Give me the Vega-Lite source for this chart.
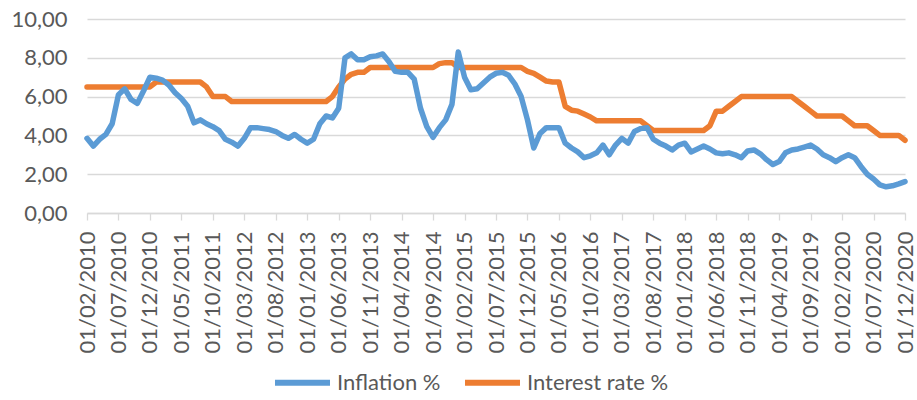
{
  "$schema": "https://vega.github.io/schema/vega-lite/v6.json",
  "width": 825,
  "height": 194,
  "autosize": {"type": "none"},
  "padding": {"left": 87, "top": 19, "right": 5, "bottom": 187},
  "background": "white",
  "config": {
    "view": {"stroke": null},
    "font": "Lato",
    "axis": {"labelColor": "#595959", "labelFont": "Lato", "title": null},
    "axisY": {"labelOverlap": false, "labelBound": false}
  },
  "data": {"values": [
    {"date": "01/02/2010", "inflation": 3.85, "interest": 6.5},
    {"date": "01/03/2010", "inflation": 3.45, "interest": 6.5},
    {"date": "01/04/2010", "inflation": 3.8, "interest": 6.5},
    {"date": "01/05/2010", "inflation": 4.05, "interest": 6.5},
    {"date": "01/06/2010", "inflation": 4.6, "interest": 6.5},
    {"date": "01/07/2010", "inflation": 6.1, "interest": 6.5},
    {"date": "01/08/2010", "inflation": 6.4, "interest": 6.5},
    {"date": "01/09/2010", "inflation": 5.85, "interest": 6.5},
    {"date": "01/10/2010", "inflation": 5.65, "interest": 6.5},
    {"date": "01/11/2010", "inflation": 6.3, "interest": 6.5},
    {"date": "01/12/2010", "inflation": 7.0, "interest": 6.5},
    {"date": "01/01/2011", "inflation": 6.95, "interest": 6.75},
    {"date": "01/02/2011", "inflation": 6.85, "interest": 6.75},
    {"date": "01/03/2011", "inflation": 6.6, "interest": 6.75},
    {"date": "01/04/2011", "inflation": 6.2, "interest": 6.75},
    {"date": "01/05/2011", "inflation": 5.9, "interest": 6.75},
    {"date": "01/06/2011", "inflation": 5.5, "interest": 6.75},
    {"date": "01/07/2011", "inflation": 4.65, "interest": 6.75},
    {"date": "01/08/2011", "inflation": 4.8, "interest": 6.75},
    {"date": "01/09/2011", "inflation": 4.6, "interest": 6.5},
    {"date": "01/10/2011", "inflation": 4.45, "interest": 6.0},
    {"date": "01/11/2011", "inflation": 4.25, "interest": 6.0},
    {"date": "01/12/2011", "inflation": 3.8, "interest": 6.0},
    {"date": "01/01/2012", "inflation": 3.65, "interest": 5.75},
    {"date": "01/02/2012", "inflation": 3.45, "interest": 5.75},
    {"date": "01/03/2012", "inflation": 3.85, "interest": 5.75},
    {"date": "01/04/2012", "inflation": 4.4, "interest": 5.75},
    {"date": "01/05/2012", "inflation": 4.4, "interest": 5.75},
    {"date": "01/06/2012", "inflation": 4.35, "interest": 5.75},
    {"date": "01/07/2012", "inflation": 4.3, "interest": 5.75},
    {"date": "01/08/2012", "inflation": 4.2, "interest": 5.75},
    {"date": "01/09/2012", "inflation": 4.0, "interest": 5.75},
    {"date": "01/10/2012", "inflation": 3.85, "interest": 5.75},
    {"date": "01/11/2012", "inflation": 4.05, "interest": 5.75},
    {"date": "01/12/2012", "inflation": 3.8, "interest": 5.75},
    {"date": "01/01/2013", "inflation": 3.6, "interest": 5.75},
    {"date": "01/02/2013", "inflation": 3.8, "interest": 5.75},
    {"date": "01/03/2013", "inflation": 4.6, "interest": 5.75},
    {"date": "01/04/2013", "inflation": 5.0, "interest": 5.75},
    {"date": "01/05/2013", "inflation": 4.9, "interest": 6.0},
    {"date": "01/06/2013", "inflation": 5.4, "interest": 6.5},
    {"date": "01/07/2013", "inflation": 8.0, "interest": 6.9},
    {"date": "01/08/2013", "inflation": 8.2, "interest": 7.15},
    {"date": "01/09/2013", "inflation": 7.9, "interest": 7.25},
    {"date": "01/10/2013", "inflation": 7.9, "interest": 7.25},
    {"date": "01/11/2013", "inflation": 8.05, "interest": 7.5},
    {"date": "01/12/2013", "inflation": 8.1, "interest": 7.5},
    {"date": "01/01/2014", "inflation": 8.2, "interest": 7.5},
    {"date": "01/02/2014", "inflation": 7.8, "interest": 7.5},
    {"date": "01/03/2014", "inflation": 7.3, "interest": 7.5},
    {"date": "01/04/2014", "inflation": 7.25, "interest": 7.5},
    {"date": "01/05/2014", "inflation": 7.25, "interest": 7.5},
    {"date": "01/06/2014", "inflation": 6.9, "interest": 7.5},
    {"date": "01/07/2014", "inflation": 5.4, "interest": 7.5},
    {"date": "01/08/2014", "inflation": 4.45, "interest": 7.5},
    {"date": "01/09/2014", "inflation": 3.9, "interest": 7.5},
    {"date": "01/10/2014", "inflation": 4.4, "interest": 7.7},
    {"date": "01/11/2014", "inflation": 4.8, "interest": 7.75},
    {"date": "01/12/2014", "inflation": 5.6, "interest": 7.75},
    {"date": "01/01/2015", "inflation": 8.3, "interest": 7.5},
    {"date": "01/02/2015", "inflation": 7.0, "interest": 7.5},
    {"date": "01/03/2015", "inflation": 6.35, "interest": 7.5},
    {"date": "01/04/2015", "inflation": 6.4, "interest": 7.5},
    {"date": "01/05/2015", "inflation": 6.7, "interest": 7.5},
    {"date": "01/06/2015", "inflation": 7.0, "interest": 7.5},
    {"date": "01/07/2015", "inflation": 7.2, "interest": 7.5},
    {"date": "01/08/2015", "inflation": 7.25, "interest": 7.5},
    {"date": "01/09/2015", "inflation": 7.1, "interest": 7.5},
    {"date": "01/10/2015", "inflation": 6.65, "interest": 7.5},
    {"date": "01/11/2015", "inflation": 6.0, "interest": 7.5},
    {"date": "01/12/2015", "inflation": 4.8, "interest": 7.3},
    {"date": "01/01/2016", "inflation": 3.35, "interest": 7.2},
    {"date": "01/02/2016", "inflation": 4.1, "interest": 7.0},
    {"date": "01/03/2016", "inflation": 4.4, "interest": 6.8},
    {"date": "01/04/2016", "inflation": 4.4, "interest": 6.75},
    {"date": "01/05/2016", "inflation": 4.4, "interest": 6.75},
    {"date": "01/06/2016", "inflation": 3.6, "interest": 5.5},
    {"date": "01/07/2016", "inflation": 3.35, "interest": 5.3},
    {"date": "01/08/2016", "inflation": 3.15, "interest": 5.25},
    {"date": "01/09/2016", "inflation": 2.85, "interest": 5.1},
    {"date": "01/10/2016", "inflation": 2.95, "interest": 4.95},
    {"date": "01/11/2016", "inflation": 3.1, "interest": 4.75},
    {"date": "01/12/2016", "inflation": 3.5, "interest": 4.75},
    {"date": "01/01/2017", "inflation": 3.0, "interest": 4.75},
    {"date": "01/02/2017", "inflation": 3.5, "interest": 4.75},
    {"date": "01/03/2017", "inflation": 3.85, "interest": 4.75},
    {"date": "01/04/2017", "inflation": 3.6, "interest": 4.75},
    {"date": "01/05/2017", "inflation": 4.2, "interest": 4.75},
    {"date": "01/06/2017", "inflation": 4.35, "interest": 4.75},
    {"date": "01/07/2017", "inflation": 4.4, "interest": 4.5},
    {"date": "01/08/2017", "inflation": 3.8, "interest": 4.25},
    {"date": "01/09/2017", "inflation": 3.6, "interest": 4.25},
    {"date": "01/10/2017", "inflation": 3.45, "interest": 4.25},
    {"date": "01/11/2017", "inflation": 3.25, "interest": 4.25},
    {"date": "01/12/2017", "inflation": 3.5, "interest": 4.25},
    {"date": "01/01/2018", "inflation": 3.6, "interest": 4.25},
    {"date": "01/02/2018", "inflation": 3.15, "interest": 4.25},
    {"date": "01/03/2018", "inflation": 3.3, "interest": 4.25},
    {"date": "01/04/2018", "inflation": 3.45, "interest": 4.25},
    {"date": "01/05/2018", "inflation": 3.3, "interest": 4.5},
    {"date": "01/06/2018", "inflation": 3.1, "interest": 5.25},
    {"date": "01/07/2018", "inflation": 3.05, "interest": 5.25},
    {"date": "01/08/2018", "inflation": 3.1, "interest": 5.5},
    {"date": "01/09/2018", "inflation": 3.0, "interest": 5.75},
    {"date": "01/10/2018", "inflation": 2.85, "interest": 6.0},
    {"date": "01/11/2018", "inflation": 3.2, "interest": 6.0},
    {"date": "01/12/2018", "inflation": 3.25, "interest": 6.0},
    {"date": "01/01/2019", "inflation": 3.05, "interest": 6.0},
    {"date": "01/02/2019", "inflation": 2.75, "interest": 6.0},
    {"date": "01/03/2019", "inflation": 2.5, "interest": 6.0},
    {"date": "01/04/2019", "inflation": 2.65, "interest": 6.0},
    {"date": "01/05/2019", "inflation": 3.1, "interest": 6.0},
    {"date": "01/06/2019", "inflation": 3.25, "interest": 6.0},
    {"date": "01/07/2019", "inflation": 3.3, "interest": 5.75},
    {"date": "01/08/2019", "inflation": 3.4, "interest": 5.5},
    {"date": "01/09/2019", "inflation": 3.5, "interest": 5.25},
    {"date": "01/10/2019", "inflation": 3.3, "interest": 5.0},
    {"date": "01/11/2019", "inflation": 3.0, "interest": 5.0},
    {"date": "01/12/2019", "inflation": 2.85, "interest": 5.0},
    {"date": "01/01/2020", "inflation": 2.65, "interest": 5.0},
    {"date": "01/02/2020", "inflation": 2.85, "interest": 5.0},
    {"date": "01/03/2020", "inflation": 3.0, "interest": 4.75},
    {"date": "01/04/2020", "inflation": 2.85, "interest": 4.5},
    {"date": "01/05/2020", "inflation": 2.4, "interest": 4.5},
    {"date": "01/06/2020", "inflation": 2.0, "interest": 4.5},
    {"date": "01/07/2020", "inflation": 1.75, "interest": 4.25},
    {"date": "01/08/2020", "inflation": 1.45, "interest": 4.0},
    {"date": "01/09/2020", "inflation": 1.35, "interest": 4.0},
    {"date": "01/10/2020", "inflation": 1.4, "interest": 4.0},
    {"date": "01/11/2020", "inflation": 1.5, "interest": 4.0},
    {"date": "01/12/2020", "inflation": 1.62, "interest": 3.75}
  ]},
  "encoding": {
    "x": {
      "field": "date",
      "type": "ordinal",
      "sort": null,
      "scale": {"type": "point", "padding": 0, "range": [0, 818]},
      "axis": {
        "values": ["01/02/2010", "01/07/2010", "01/12/2010", "01/05/2011", "01/10/2011", "01/03/2012", "01/08/2012", "01/01/2013", "01/06/2013", "01/11/2013", "01/04/2014", "01/09/2014", "01/02/2015", "01/07/2015", "01/12/2015", "01/05/2016", "01/10/2016", "01/03/2017", "01/08/2017", "01/01/2018", "01/06/2018", "01/11/2018", "01/04/2019", "01/09/2019", "01/02/2020", "01/07/2020", "01/12/2020"],
        "labelAngle": -90,
        "labelFontSize": 22,
        "labelPadding": 11,
        "tickSize": 7,
        "tickColor": "#d9d9d9",
        "tickWidth": 1.3,
        "domainColor": "#d9d9d9",
        "domainWidth": 1.3,
        "grid": false,
        "labelOverlap": false,
        "title": null
      }
    },
    "y": {
      "type": "quantitative",
      "scale": {"domain": [0, 10]},
      "axis": {
        "values": [0, 2, 4, 6, 8, 10],
        "labelExpr": "replace(format(datum.value, '.2f'), '.', ',')",
        "labelFontSize": 22,
        "labelPadding": 20,
        "labelOverlap": false,
        "labelBound": false,
        "grid": true,
        "gridColor": "#d9d9d9",
        "gridWidth": 1.3,
        "domain": false,
        "ticks": false,
        "title": null
      }
    }
  },
  "layer": [
    {
      "mark": {"type": "line", "strokeWidth": 5.5, "strokeCap": "round", "strokeJoin": "round"},
      "encoding": {
        "y": {"field": "interest"},
        "color": {
          "datum": "Interest rate %",
          "scale": {"domain": ["Inflation %", "Interest rate %"], "range": ["#5B9BD5", "#ED7D31"]},
          "legend": {
            "orient": "none",
            "legendX": 185,
            "legendY": 333,
            "direction": "horizontal",
            "title": null,
            "symbolType": "stroke",
            "symbolSize": 3025,
            "symbolStrokeWidth": 6,
            "labelFontSize": 22,
            "labelColor": "#595959",
            "labelOffset": 4,
            "columnPadding": 12,
            "padding": 0
          }
        }
      }
    },
    {
      "mark": {"type": "line", "strokeWidth": 5.5, "strokeCap": "round", "strokeJoin": "round"},
      "encoding": {
        "y": {"field": "inflation"},
        "color": {"datum": "Inflation %"}
      }
    }
  ]
}
